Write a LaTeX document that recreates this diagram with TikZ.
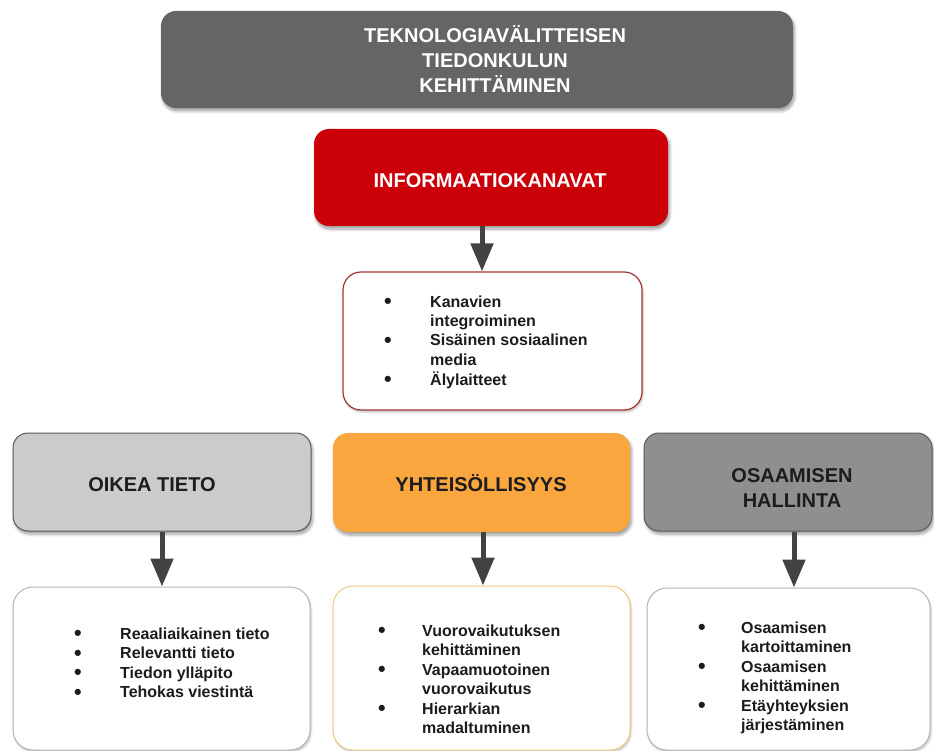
\documentclass[tikz,border=0pt]{standalone}
\usepackage{fontspec}
\setmainfont{Liberation Sans}
\usetikzlibrary{arrows.meta,shadows.blur}

\definecolor{titlegray}{HTML}{656565}
\definecolor{infored}{HTML}{CB0009}
\definecolor{redline}{HTML}{A43434}
\definecolor{lightgray}{HTML}{CBCBCB}
\definecolor{midgray}{HTML}{8F8F8F}
\definecolor{boxedge}{HTML}{5A5A5A}
\definecolor{orangefill}{HTML}{FAA63F}
\definecolor{orangeline}{HTML}{F2C77E}
\definecolor{greyline}{HTML}{B4B4B4}
\definecolor{arrowgray}{HTML}{424242}
\definecolor{inktext}{HTML}{1C1C1C}

\newcommand\headfont{\bfseries\fontsize{20}{25}\selectfont}
\newcommand\listfont{\bfseries\fontsize{16}{19.5}\selectfont}
% enlarged bullet, kept out of the line height
\newcommand\dotmark{\smash{\raisebox{-1.6pt}{\scalebox{1.35}{\textbullet}}}}

\tikzset{
  panel/.style={rectangle, rounded corners=15pt, inner sep=0pt,
    blur shadow={shadow xshift=1.5pt, shadow yshift=-3pt,
      shadow blur radius=3pt, shadow blur steps=6, shadow opacity=40}},
  listbox/.style={rectangle, rounded corners=20pt, fill=white, inner sep=0pt,
    line width=1pt,
    blur shadow={shadow xshift=1pt, shadow yshift=-2pt,
      shadow blur radius=2pt, shadow blur steps=5, shadow opacity=25}},
  headtext/.style={inner sep=0pt, anchor=base, font=\headfont},
  listtext/.style={inner sep=0pt, anchor=base west, font=\listfont, text=inktext},
  flow/.style={draw=arrowgray, line width=5pt, -{Triangle[length=28pt,width=22pt]}},
}

\begin{document}
\begin{tikzpicture}[x=1pt, y=-1pt]
\useasboundingbox (0,0) rectangle (934,751);
\clip (0,0) rectangle (934,751);

% --- top level -------------------------------------------------------
\node[panel, fill=titlegray, minimum width=632pt, minimum height=97pt]
  (title) at (477,59.5) {};
\node[headtext, text=white, align=center] (titletext) at (495,43)
  {\begin{tabular}[t]{@{}c@{}}TEKNOLOGIAVÄLITTEISEN\\TIEDONKULUN\\KEHITTÄMINEN\end{tabular}};

\node[panel, fill=infored, minimum width=354pt, minimum height=97pt]
  (info) at (491,177.5) {};
\node[headtext, text=white] (infotext) at (490,188) {INFORMAATIOKANAVAT};

\node[listbox, draw=redline, line width=1.2pt, rounded corners=18pt,
  minimum width=299pt, minimum height=138pt] (infolist) at (492.5,341) {};
\node[listtext] (infoitems) at (384,307)
  {\begin{tabular}[t]{@{}p{46pt}@{}l@{}}
   \dotmark & Kanavien\\
            & integroiminen\\
   \dotmark & Sisäinen sosiaalinen\\
            & media\\
   \dotmark & Älylaitteet
   \end{tabular}};

% --- three themes ----------------------------------------------------
\node[panel, fill=lightgray, draw=boxedge, line width=1pt,
  minimum width=298pt, minimum height=98pt] (right) at (162,482) {};
\node[headtext, text=inktext] (righttext) at (152,491) {OIKEA TIETO};

\node[panel, fill=orangefill, minimum width=297pt, minimum height=99pt]
  (comm) at (481.5,482.5) {};
\node[headtext, text=inktext] (commtext) at (481,491) {YHTEISÖLLISYYS};

\node[panel, fill=midgray, draw=boxedge, line width=1pt,
  minimum width=288pt, minimum height=98pt] (skill) at (788,482) {};
\node[headtext, text=inktext, align=center] (skilltext) at (792,482)
  {\begin{tabular}[t]{@{}c@{}}OSAAMISEN\\HALLINTA\end{tabular}};

% --- detail lists ----------------------------------------------------
\node[listbox, draw=greyline, minimum width=297pt, minimum height=163pt]
  (rightlist) at (161.5,668.5) {};
\node[listtext] (rightitems) at (74,639)
  {\begin{tabular}[t]{@{}p{46pt}@{}l@{}}
   \dotmark & Reaaliaikainen tieto\\
   \dotmark & Relevantti tieto\\
   \dotmark & Tiedon ylläpito\\
   \dotmark & Tehokas viestintä
   \end{tabular}};

\node[listbox, draw=orangeline, minimum width=297pt, minimum height=164pt]
  (commlist) at (481.5,668) {};
\node[listtext] (commitems) at (378,636)
  {\begin{tabular}[t]{@{}p{44pt}@{}l@{}}
   \dotmark & Vuorovaikutuksen\\
            & kehittäminen\\
   \dotmark & Vapaamuotoinen\\
            & vuorovaikutus\\
   \dotmark & Hierarkian\\
            & madaltuminen
   \end{tabular}};

\node[listbox, draw=greyline, minimum width=283pt, minimum height=162pt]
  (skilllist) at (788.5,669) {};
\node[listtext] (skillitems) at (698,633)
  {\begin{tabular}[t]{@{}p{43pt}@{}l@{}}
   \dotmark & Osaamisen\\
            & kartoittaminen\\
   \dotmark & Osaamisen\\
            & kehittäminen\\
   \dotmark & Etäyhteyksien\\
            & järjestäminen
   \end{tabular}};

% --- connectors ------------------------------------------------------
\coordinate (xinfo)  at (482,0);
\coordinate (xright) at (162,0);
\coordinate (xcomm)  at (483,0);
\coordinate (xskill) at (794,0);

\draw[flow] (info.south -| xinfo) -- (infolist.north -| xinfo);
\draw[flow] (right.south -| xright) -- (rightlist.north -| xright);
\draw[flow] (comm.south -| xcomm) -- (commlist.north -| xcomm);
\draw[flow] (skill.south -| xskill) -- (skilllist.north -| xskill);
\end{tikzpicture}
\end{document}
